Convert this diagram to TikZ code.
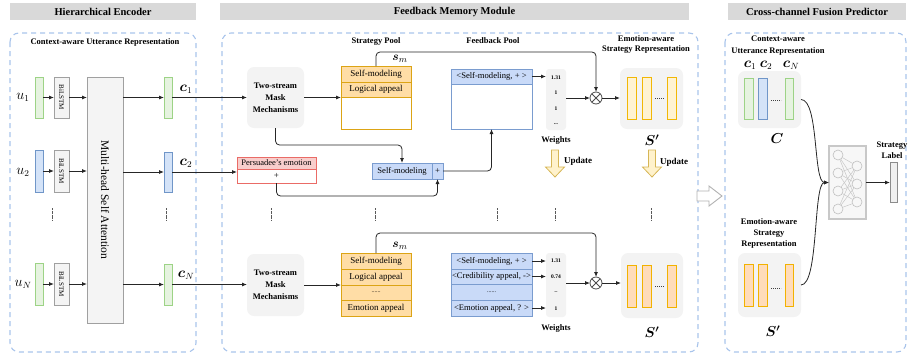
\documentclass[tikz,border=0pt]{standalone}
\usepackage{fontspec}
\setmainfont{Liberation Serif}
\usepackage{amsmath,amssymb}
\usepackage{graphicx}
\usetikzlibrary{arrows.meta,shadows}
\definecolor{titlegray}{HTML}{D9D9D9}
\definecolor{dashblue}{HTML}{A9C4EB}
\definecolor{grnF}{HTML}{E6F3E0}
\definecolor{grnB}{HTML}{9DD386}
\definecolor{bluF}{HTML}{D4E3F8}
\definecolor{bluB}{HTML}{7096C8}
\definecolor{lgray}{HTML}{F3F3F3}
\definecolor{bilF}{HTML}{F4F4F4}
\definecolor{bilB}{HTML}{A0A0A0}
\definecolor{spF}{HTML}{FFDDA6}
\definecolor{spB}{HTML}{DCA415}
\definecolor{fpF}{HTML}{C9DAF8}
\definecolor{fpB}{HTML}{7A9CCF}
\definecolor{peF}{HTML}{F8CECC}
\definecolor{peB}{HTML}{EA6B66}
\definecolor{yF}{HTML}{FFF3D2}
\definecolor{yB}{HTML}{F2B705}
\definecolor{oF}{HTML}{FFDCBA}
\definecolor{oB}{HTML}{F2B200}
\definecolor{updF}{HTML}{FFF2CC}
\definecolor{updB}{HTML}{D6B656}
\definecolor{nnB}{HTML}{C8C8C8}
\newcommand{\mybox}[7]{\node[#6,anchor=north west,minimum width={#4-#2},minimum height={#5-#3}] (#1) at (#2,#3) {#7};}
\newcommand{\updarrow}[1]{\draw[upd] (#1-3.5,150) -- (#1+3.5,150) -- (#1+3.5,167) -- (#1+9.5,167) -- (#1,177) -- (#1-9.5,167) -- (#1-3.5,167) -- cycle;}
\begin{document}
\begin{tikzpicture}[x=1pt,y=-1pt,
  base/.style={inner sep=0pt,outer sep=0pt,align=center},
  ttl/.style={base,fill=titlegray,font=\fontsize{10.5}{12}\selectfont\bfseries},
  lbl/.style={base,font=\fontsize{8.5}{10}\selectfont\bfseries},
  panel/.style={draw=dashblue,line width=1.1pt,dash pattern=on 5pt off 4pt,rounded corners=9pt},
  con/.style={draw=black!85,line width=0.8pt,-{Latex[length=5pt,width=4pt]}},
  sh/.style={drop shadow={shadow xshift=1.2pt,shadow yshift=-1.2pt,fill=black,opacity=0.25}},
  gbar/.style={base,draw=grnB,fill=grnF,line width=0.9pt,sh},
  bbar/.style={base,draw=bluB,fill=bluF,line width=0.9pt,sh},
  ybar/.style={base,draw=yB,fill=yF,line width=1pt,sh},
  obar/.style={base,draw=oB,fill=oF,line width=1pt,sh},
  bil/.style={base,draw=bilB,fill=bilF,line width=0.8pt,font=\fontsize{7}{8}\selectfont},
  gbox/.style={base,fill=lgray,rounded corners=7pt},
  boxt/.style={font=\fontsize{8.5}{12}\selectfont\bfseries},
  sprow/.style={base,draw=spB,fill=spF,line width=0.9pt,font=\fontsize{9}{10}\selectfont},
  spout/.style={base,draw=spB,fill=white,line width=0.9pt},
  fprow/.style={base,draw=fpB,fill=fpF,line width=0.9pt,font=\fontsize{8.6}{10}\selectfont},
  fpout/.style={base,draw=fpB,fill=white,line width=0.9pt},
  wts/.style={base,fill=lgray,rounded corners=3pt},
  wv/.style={base,font=\fontsize{5.5}{6}\selectfont\bfseries},
  mth/.style={base,font=\fontsize{13.5}{13.5}\selectfont},
  big/.style={base,font=\fontsize{14.5}{14.5}\selectfont},
  vd/.style={draw=black!65,line width=1pt,dash pattern=on 0.8pt off 0.5pt},
  bd/.style={draw=black!75,line width=0.5pt,dash pattern=on 1.2pt off 0.8pt},
  upd/.style={draw=updB,fill=updF,line width=0.8pt},
  otimes/.style={circle,draw=black!70,line width=0.8pt,minimum size=12pt,inner sep=0pt,outer sep=0pt},
  nn/.style={circle,draw=black!25,line width=0.6pt,minimum size=10pt,inner sep=0pt,outer sep=0pt},
]
\useasboundingbox (0,0) rectangle (910,354);
% titles and panels
\mybox{T1}{10}{3}{196}{20}{ttl}{Hierarchical Encoder}
\mybox{T2}{220}{3}{689}{20}{ttl}{Feedback Memory Module}
\mybox{T3}{728}{3}{906}{20}{ttl}{Cross-channel Fusion Predictor}
\draw[panel] (10,33) rectangle (196,352);
\draw[panel] (222,33) rectangle (698,352);
\draw[panel] (725,33) rectangle (906,352);
% ---------------- encoder
\node[lbl] (L1) at (105,42) {Context-aware Utterance Representation};
\mybox{u1b}{35}{77}{43}{118}{gbar}{}
\mybox{u2b}{35}{150}{43}{192}{bbar}{}
\mybox{uNb}{35}{263}{43}{305}{gbar}{}
\node[mth] (u1) at (23,97) {$u_1$};
\node[mth] (u2) at (23,172) {$u_2$};
\node[mth] (uN) at (23,284) {$u_N$};
\mybox{B1}{54}{77}{69}{118}{bil}{\rotatebox{-90}{BiLSTM}}
\mybox{B2}{54}{150}{69}{192}{bil}{\rotatebox{-90}{BiLSTM}}
\mybox{B3}{54}{263}{69}{305}{bil}{\rotatebox{-90}{BiLSTM}}
\mybox{MH}{87}{77}{123}{323}{bil,font=\fontsize{11.5}{12}\selectfont}{\rotatebox{-90}{Multi-head Self Attention}}
\mybox{c1b}{164}{77}{172}{118}{gbar}{}
\mybox{c2b}{164}{152}{172}{192}{bbar}{}
\mybox{cNb}{164}{264}{172}{305}{gbar}{}
\node[mth] (c1) at (186,89) {$\boldsymbol{c}_1$};
\node[mth] (c2) at (186,163) {$\boldsymbol{c}_2$};
\node[mth] (cN) at (186,275) {$\boldsymbol{c}_N$};
\draw[con] (u1b.east) -- (B1.west);
\draw[con] (u2b.east) -- (B2.west);
\draw[con] (uNb.east) -- (B3.west);
\draw[con] (B1.east) -- (B1.east -| MH.west);
\draw[con] (B2.east) -- (B2.east -| MH.west);
\draw[con] (B3.east) -- (B3.east -| MH.west);
\draw[con] (MH.east |- c1b.west) -- (c1b.west);
\draw[con] (MH.east |- c2b.west) -- (c2b.west);
\draw[con] (MH.east |- cNb.west) -- (cNb.west);
\foreach \x in {52,166,271,375,497,555,651} \draw[vd] (\x,208) -- (\x,220);
% ---------------- feedback memory
\mybox{TS1}{247}{67}{304}{128}{gbox,boxt}{Two-stream\\Mask\\Mechanisms}
\mybox{TS2}{247}{254}{304}{316}{gbox,boxt}{Two-stream\\Mask\\Mechanisms}
\node[lbl] (SPl) at (376,41) {Strategy Pool};
\node[lbl] (FPl) at (493,41) {Feedback Pool};
\node[lbl] (ESl) at (646,44) {Emotion-aware\\Strategy Representation};
\mybox{SP1}{341}{66}{411}{129}{spout}{}
\mybox{SP1a}{341}{66}{411}{82}{sprow}{Self-modeling}
\mybox{SP1b}{341}{82}{411}{97}{sprow}{Logical appeal}
\mybox{SP2}{341}{253}{411}{316}{spout}{}
\mybox{SP2a}{341}{253}{411}{269}{sprow}{Self-modeling}
\mybox{SP2b}{341}{269}{411}{285}{sprow}{Logical appeal}
\mybox{SP2c}{341}{285}{411}{300}{sprow,font=\fontsize{6}{6}\selectfont}{......}
\mybox{SP2d}{341}{300}{411}{316}{sprow}{Emotion appeal}
\node[mth,font=\fontsize{12.5}{12.5}\selectfont] (sm1) at (400,59) {$\boldsymbol{s}_m$};
\node[mth,font=\fontsize{12.5}{12.5}\selectfont] (sm2) at (400,246) {$\boldsymbol{s}_m$};
\mybox{FP1}{451}{69}{532}{129}{fpout}{}
\mybox{FP1a}{451}{69}{532}{84}{fprow}{<Self-modeling, + >}
\mybox{FP2}{451}{253}{532}{316}{fpout}{}
\mybox{FP2a}{451}{253}{532}{269}{fprow}{<Self-modeling, + >}
\mybox{FP2b}{451}{269}{532}{284}{fprow}{<Credibility appeal, ->}
\mybox{FP2c}{451}{284}{532}{300}{fprow,font=\fontsize{6}{6}\selectfont}{......}
\mybox{FP2d}{451}{300}{532}{316}{fprow}{<Emotion appeal, ? >}
\mybox{W1}{546}{69}{566}{130}{wts}{}
\node[wv] (w11) at (556,78) {1.31};
\node[wv] (w12) at (556,93) {1};
\node[wv] (w13) at (556,109) {1};
\node[wv] (w14) at (556,124) {...};
\mybox{W2}{546}{253}{566}{317}{wts}{}
\node[wv] (w21) at (556,261) {1.31};
\node[wv] (w22) at (556,277) {0.74};
\node[wv] (w23) at (556,293) {--};
\node[wv] (w24) at (556,309) {1};
\node[lbl] (wl1) at (556,140) {Weights};
\node[lbl] (wl2) at (556,328) {Weights};
\node[otimes] (X1) at (596,98) {};
\node[otimes] (X2) at (596,283) {};
\draw[black!70,line width=0.8pt] (X1.north west) -- (X1.south east) (X1.north east) -- (X1.south west);
\draw[black!70,line width=0.8pt] (X2.north west) -- (X2.south east) (X2.north east) -- (X2.south west);
\mybox{SS1}{620}{68}{683}{129}{gbox}{}
\mybox{s1a}{627}{77}{636}{119}{ybar}{}
\mybox{s1b}{642}{77}{651}{119}{ybar}{}
\mybox{s1c}{667}{77}{676}{119}{ybar}{}
\draw[bd] (655,98) -- (664,98);
\mybox{SS2}{621}{253}{683}{318}{gbox}{}
\mybox{s2a}{627}{265}{636}{307}{obar}{}
\mybox{s2b}{642}{265}{651}{307}{obar}{}
\mybox{s2c}{667}{265}{676}{307}{obar}{}
\draw[bd] (655,286) -- (664,286);
\node[big] (S1) at (652,140) {$\boldsymbol{S'}$};
\node[big] (S2) at (652,332) {$\boldsymbol{S'}$};
\updarrow{555}
\updarrow{652}
\node[lbl,font=\fontsize{9}{10}\selectfont\bfseries] (up1) at (578,161) {Update};
\node[lbl,font=\fontsize{9}{10}\selectfont\bfseries] (up2) at (674,162) {Update};
\mybox{PE}{237}{157}{316}{183}{base,draw=peB,line width=0.9pt}{}
\mybox{PEa}{237}{157}{316}{169}{base,draw=peB,fill=peF,line width=0.9pt,font=\fontsize{8.5}{9}\selectfont}{Persuadee's emotion}
\mybox{PEb}{237}{169}{316}{183}{base,draw=peB,line width=0.9pt,font=\fontsize{9}{9}\selectfont}{+}
\mybox{SMa}{372}{163}{432}{179}{fprow}{Self-modeling}
\mybox{SMb}{432}{163}{443}{179}{fprow}{+}
% connectors
\draw[con] (c1b.east) -- (c1b.east -| TS1.west);
\draw[con] (c2b.east) -- (c2b.east -| PE.west);
\draw[con] (cNb.east) -- (cNb.east -| TS2.west);
\draw[con] (TS1.east) -- (TS1.east -| SP1.west);
\draw[con] (TS2.east) -- (TS2.east -| SP2.west);
\draw[con,rounded corners=4pt] (SP1.north) -- ++(0,-14) -| (X1.north);
\draw[con,rounded corners=4pt] (SP2.north) -- ++(0,-20) -| (X2.north);
\draw[con] (FP1a.east) -- (FP1a.east -| W1.west);
\draw[con] (FP2a.east) -- (FP2a.east -| W2.west);
\draw[con] (FP2b.east) -- (FP2b.east -| W2.west);
\draw[con] (FP2d.east) -- (FP2d.east -| W2.west);
\draw[con] (W1.east |- X1.west) -- (X1.west);
\draw[con] (W2.east |- X2.west) -- (X2.west);
\draw[con] (X1.east) -- (X1.east -| SS1.west);
\draw[con] (X2.east) -- (X2.east -| SS2.west);
\draw[con,rounded corners=4pt] (TS1.south) -- ++(0,17) -| (SMa.north);
\draw[con,rounded corners=4pt] (PEb.south) -- ++(0,13) -| (SMb.south);
\draw[con,rounded corners=4pt] (SMb.east) -| (FP1.south);
% big arrow between panels
\draw[draw=black!30,fill=white,line width=0.9pt] (697,191) -- (709,191) -- (709,186) -- (722,196) -- (709,206) -- (709,201) -- (697,201) -- cycle;
% ---------------- fusion predictor
\node[lbl,font=\fontsize{8.5}{12}\selectfont\bfseries] (CAl) at (778,46) {Context-aware\\Utterance Representation};
\node[mth] (rc1) at (750,65) {$\boldsymbol{c}_1$};
\node[mth] (rc2) at (766,65) {$\boldsymbol{c}_2$};
\node[mth] (rcN) at (791,65) {$\boldsymbol{c}_N$};
\mybox{CC}{738}{71}{801}{128}{gbox}{}
\mybox{rb1}{744}{78}{753}{119}{gbar}{}
\mybox{rb2}{758}{78}{767}{119}{bbar}{}
\mybox{rb3}{785}{78}{793}{119}{gbar}{}
\draw[bd] (771,100) -- (781,100);
\node[big] (Cl) at (777,139) {$\boldsymbol{C}$};
\node[lbl,font=\fontsize{8.5}{11}\selectfont\bfseries] (ESr) at (769,233) {Emotion-aware\\Strategy\\Representation};
\mybox{SR}{738}{253}{801}{317}{gbox}{}
\mybox{rs1}{744}{264}{753}{306}{obar}{}
\mybox{rs2}{758}{264}{767}{306}{obar}{}
\mybox{rs3}{785}{264}{793}{306}{obar}{}
\draw[bd] (771,288) -- (781,288);
\node[big] (Sr) at (773,331) {$\boldsymbol{S'}$};
\mybox{NN}{829}{146}{866}{219}{base,draw=nnB,fill=black!3,line width=1.2pt}{}
\node[nn] (n1) at (838,155) {};
\node[nn] (n2) at (838,173) {};
\node[nn] (n3) at (838,191) {};
\node[nn] (n4) at (838,209) {};
\node[nn] (n5) at (857,166) {};
\node[nn] (n6) at (857,184) {};
\node[nn] (n7) at (857,202) {};
\foreach \a in {1,2,3,4} \foreach \b in {5,6,7} \draw[black!22,line width=0.5pt] (n\a) -- (n\b);
\node[lbl,font=\fontsize{8.5}{11}\selectfont\bfseries] (SLl) at (892,150) {Strategy\\Label};
\mybox{SL}{890}{162}{897}{202}{base,draw=black!45,fill=black!6,line width=0.8pt,sh}{}
\draw[con] (NN.east) -- (NN.east -| SL.west);
\draw[con] (CC.east) .. controls +(18,0) and +(-16,0) .. (NN.west);
\draw[con] (SR.east) .. controls +(18,0) and +(-16,0) .. (NN.west);
\end{tikzpicture}
\end{document}
